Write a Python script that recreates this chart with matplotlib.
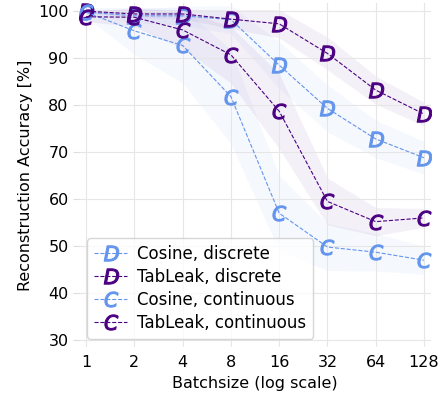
import matplotlib
matplotlib.use("Agg")
import matplotlib.pyplot as plt
import numpy as np

batch_sizes = [1, 2, 4, 8, 16, 32, 64, 128]

cosine_discrete = [99.8, 99.0, 99.0, 98.2, 88.5, 79.3, 72.8, 68.8]
tableak_discrete = [100.0, 99.4, 99.4, 98.3, 97.3, 91.0, 83.2, 78.1]
cosine_continuous = [99.8, 95.8, 92.7, 81.8, 57.0, 49.8, 48.7, 47.0]
tableak_continuous = [98.8, 98.7, 96.0, 90.7, 78.7, 59.5, 55.2, 56.0]

cosine_discrete_std = [0.5, 1.5, 2.0, 3.0, 5.0, 5.0, 4.0, 3.5]
tableak_discrete_std = [0.3, 0.8, 1.0, 2.0, 3.0, 3.5, 3.0, 2.5]
cosine_continuous_std = [1.0, 5.0, 8.0, 10.0, 8.0, 5.0, 4.0, 3.0]
tableak_continuous_std = [1.0, 2.0, 4.0, 6.0, 8.0, 5.0, 3.0, 2.0]

light = "#6495ED"
dark = "#4B0082"


def main():
    fig, ax = plt.subplots(figsize=(4.42, 3.94), dpi=100)
    x = np.array(batch_sizes)

    series = [
        ("Cosine, discrete", cosine_discrete, cosine_discrete_std, light, "D"),
        ("TabLeak, discrete", tableak_discrete, tableak_discrete_std, dark, "D"),
        ("Cosine, continuous", cosine_continuous, cosine_continuous_std, light, "C"),
        ("TabLeak, continuous", tableak_continuous, tableak_continuous_std, dark, "C"),
    ]

    for label, vals, std, color, letter in series:
        vals = np.array(vals)
        std = np.array(std)
        ax.fill_between(x, vals - std, vals + std, color=color, alpha=0.06,
                        linewidth=0)
        ax.plot(x, vals, linestyle="--", linewidth=0.8, color=color,
                marker=r"$\mathbf{\mathit{%s}}$" % letter, markersize=11,
                markeredgewidth=0.8, label=label)

    ax.set_xscale("log", base=2)
    ax.set_xticks(batch_sizes)
    ax.set_xticklabels([str(b) for b in batch_sizes])
    ax.minorticks_off()
    ax.set_xlim(0.904, 141.5)
    ax.set_ylim(28.5, 101.7)
    ax.set_yticks([30, 40, 50, 60, 70, 80, 90, 100])

    ax.grid(True, color="#e6e6e6", linewidth=0.8)
    for s in ax.spines.values():
        s.set_visible(False)
    ax.tick_params(axis="x", length=0, labelsize=11.5, pad=6)
    ax.tick_params(axis="y", length=4, color="#dddddd", labelsize=11.5)

    ax.set_xlabel("Batchsize (log scale)", fontsize=11.5)
    ax.set_ylabel("Reconstruction Accuracy [%]", fontsize=11.5)

    ax.legend(loc="lower left", fontsize=12, handlelength=2.0,
              handletextpad=0.6, labelspacing=0.3, borderpad=0.4,
              bbox_to_anchor=(0.0, 0.0))

    fig.subplots_adjust(left=0.179, right=0.975, top=0.992, bottom=0.119)
    fig.savefig("out.png", dpi=100)


if __name__ == "__main__":
    main()
